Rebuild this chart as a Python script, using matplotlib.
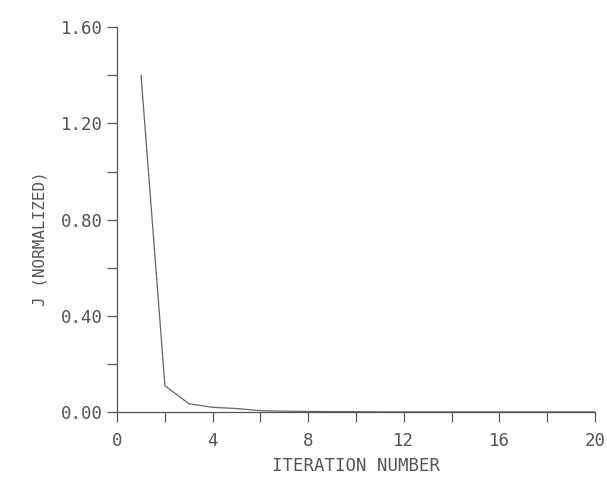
import matplotlib.pyplot as plt
from matplotlib.ticker import MultipleLocator

iteration = [1, 2, 3, 4, 5, 6, 7, 8, 9, 10, 11, 12, 13, 14, 15, 16, 17, 18, 19, 20]
j_norm = [1.40, 0.11, 0.035, 0.02, 0.015, 0.006, 0.004, 0.003, 0.002, 0.002,
          0.001, 0.001, 0.001, 0.001, 0.001, 0.001, 0.001, 0.001, 0.001, 0.001]

ink = '#555555'
plt.rcParams['font.family'] = 'DejaVu Sans Mono'

fig = plt.figure(figsize=(6.07, 4.86), dpi=100)
ax = fig.add_axes([0.193, 0.152, 0.787, 0.792])

ax.plot(iteration, j_norm, color='#666666', linewidth=0.9)

ax.set_xlim(0, 20)
ax.set_ylim(0, 1.6)
ax.xaxis.set_major_locator(MultipleLocator(4))
ax.xaxis.set_minor_locator(MultipleLocator(2))
ax.yaxis.set_major_locator(MultipleLocator(0.4))
ax.yaxis.set_minor_locator(MultipleLocator(0.2))
ax.yaxis.set_major_formatter(plt.FuncFormatter(lambda v, p: f'{v:.2f}'))

for s in ['top', 'right']:
    ax.spines[s].set_visible(False)
for s in ['left', 'bottom']:
    ax.spines[s].set_color(ink)
    ax.spines[s].set_linewidth(0.9)

ax.tick_params(which='both', direction='out', colors=ink, labelsize=12.5, width=0.9, length=7)
ax.tick_params(axis='x', pad=7)
ax.tick_params(axis='y', pad=3)

ax.set_xlabel('ITERATION NUMBER', color=ink, fontsize=12.5, labelpad=5)
ax.set_ylabel('J (NORMALIZED)', color=ink, fontsize=11.5)
ax.yaxis.set_label_coords(-0.145, 0.45)

plt.savefig('out.png', dpi=100)
